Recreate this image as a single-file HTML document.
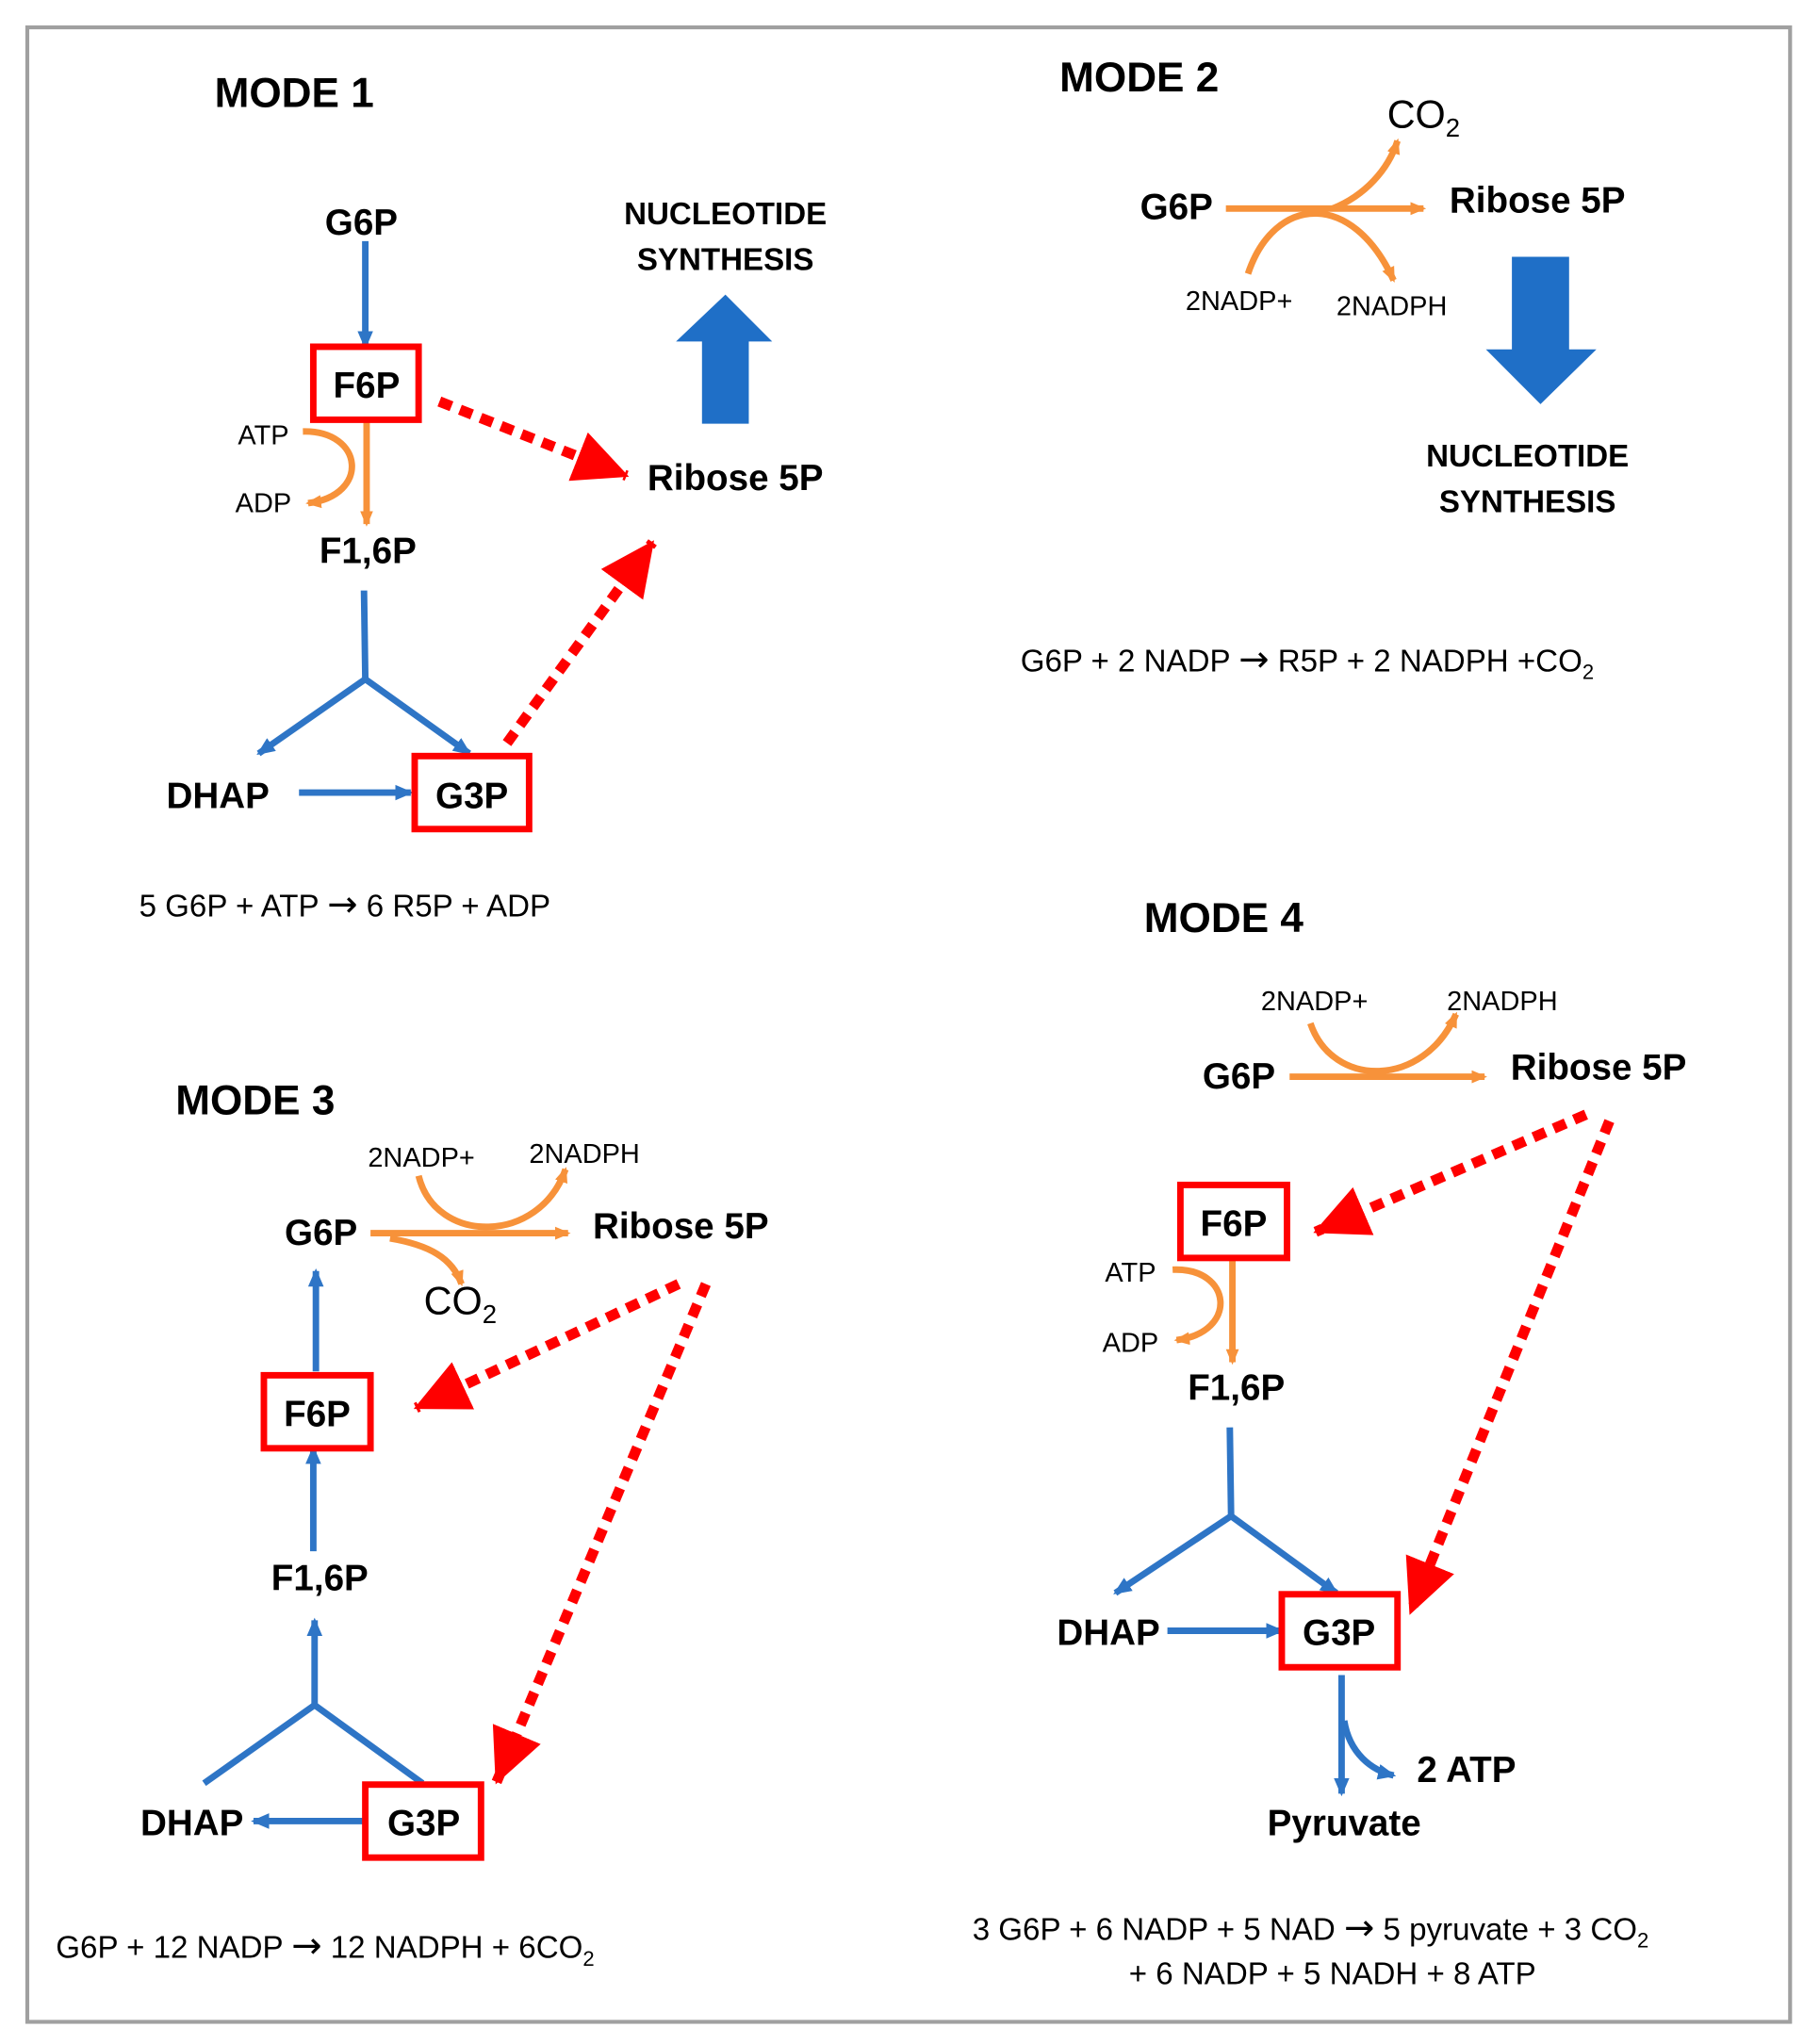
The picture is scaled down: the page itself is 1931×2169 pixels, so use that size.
<!DOCTYPE html>
<html><head><meta charset="utf-8"><style>
html,body{margin:0;padding:0;background:#fff;}
svg{display:block;}
text{font-family:"Liberation Sans",sans-serif;fill:#000;}
.b{font-weight:bold;font-size:28px;}
.t{font-weight:bold;font-size:32px;}
.n{font-weight:bold;font-size:24px;}
.s{font-size:21px;}
.e{font-size:24px;}
.ar{font-family:"DejaVu Sans",sans-serif;font-size:28px;}
</style></head><body>
<svg width="1931" height="2169" viewBox="0 0 1400 1568" preserveAspectRatio="none" xmlns="http://www.w3.org/2000/svg">
<defs>
<marker id="bl" markerWidth="14" markerHeight="14" refX="12" refY="7" orient="auto" markerUnits="userSpaceOnUse"><path d="M0,1 L14,7 L0,13 z" fill="#2e75c6"/></marker>
<marker id="or" markerWidth="12" markerHeight="12" refX="10" refY="6" orient="auto" markerUnits="userSpaceOnUse"><path d="M0,1 L12,6 L0,11 z" fill="#f7923a"/></marker>
<marker id="rd" markerWidth="42" markerHeight="40" refX="40" refY="20" orient="auto" markerUnits="userSpaceOnUse"><path d="M0,0 L42,20 L0,40 z" fill="#ff0000"/></marker>
</defs>
<rect x="0" y="0" width="1400" height="1568" fill="#fff"/>
<rect x="21" y="21" width="1356" height="1530" fill="none" stroke="#a0a0a0" stroke-width="3"/>

<g fill="none" stroke-linecap="butt">
<!-- MODE 1 -->
<line x1="281" y1="185" x2="281" y2="266" stroke="#2e75c6" stroke-width="5" marker-end="url(#bl)"/>
<line x1="282" y1="322" x2="282" y2="402" stroke="#f7923a" stroke-width="5" marker-end="url(#or)"/>
<path d="M233,331 C280,330 285,380 237,386" stroke="#f7923a" stroke-width="5" marker-end="url(#or)"/>
<path d="M280,453 L281,521" stroke="#2e75c6" stroke-width="5"/>
<line x1="281" y1="521" x2="199" y2="578" stroke="#2e75c6" stroke-width="5" marker-end="url(#bl)"/>
<line x1="281" y1="521" x2="361" y2="578" stroke="#2e75c6" stroke-width="5" marker-end="url(#bl)"/>
<line x1="230" y1="608" x2="316" y2="608" stroke="#2e75c6" stroke-width="5" marker-end="url(#bl)"/>
<rect x="241" y="266" width="81" height="56" stroke="#ff0000" stroke-width="5"/>
<rect x="319" y="580" width="88" height="56" stroke="#ff0000" stroke-width="5"/>
<line x1="338" y1="308" x2="482" y2="365" stroke="#ff0000" stroke-width="8" stroke-dasharray="10 7" marker-end="url(#rd)"/>
<line x1="390" y1="570" x2="502" y2="416" stroke="#ff0000" stroke-width="8" stroke-dasharray="10 7" marker-end="url(#rd)"/>

<!-- MODE 2 -->
<line x1="943" y1="160" x2="1095" y2="160" stroke="#f7923a" stroke-width="5" marker-end="url(#or)"/>
<path d="M960,210 C980,150 1040,145 1072,215" stroke="#f7923a" stroke-width="5" marker-end="url(#or)"/>
<path d="M1025,160 C1050,150 1068,130 1075,108" stroke="#f7923a" stroke-width="5" marker-end="url(#or)"/>

<!-- MODE 3 -->
<line x1="285" y1="946" x2="437" y2="946" stroke="#f7923a" stroke-width="5" marker-end="url(#or)"/>
<path d="M322,902 C335,955 415,955 435,897" stroke="#f7923a" stroke-width="5" marker-end="url(#or)"/>
<path d="M300,950 C330,955 348,965 355,985" stroke="#f7923a" stroke-width="5" marker-end="url(#or)"/>
<line x1="243" y1="1052" x2="243" y2="975" stroke="#2e75c6" stroke-width="5" marker-end="url(#bl)"/>
<line x1="241" y1="1190" x2="241" y2="1111" stroke="#2e75c6" stroke-width="5" marker-end="url(#bl)"/>
<line x1="242" y1="1308" x2="242" y2="1243" stroke="#2e75c6" stroke-width="5" marker-end="url(#bl)"/>
<path d="M157,1368 L242,1308 L325,1368" stroke="#2e75c6" stroke-width="5"/>
<line x1="280" y1="1397" x2="195" y2="1397" stroke="#2e75c6" stroke-width="5" marker-end="url(#bl)"/>
<rect x="203" y="1055" width="82" height="56" stroke="#ff0000" stroke-width="5"/>
<rect x="281" y="1369" width="89" height="56" stroke="#ff0000" stroke-width="5"/>
<line x1="522" y1="985" x2="320" y2="1080" stroke="#ff0000" stroke-width="8" stroke-dasharray="10 7" marker-end="url(#rd)"/>
<line x1="543" y1="985" x2="382" y2="1367" stroke="#ff0000" stroke-width="8" stroke-dasharray="10 7" marker-end="url(#rd)"/>

<!-- MODE 4 -->
<line x1="992" y1="826" x2="1142" y2="826" stroke="#f7923a" stroke-width="5" marker-end="url(#or)"/>
<path d="M1008,785 C1025,835 1095,835 1120,778" stroke="#f7923a" stroke-width="5" marker-end="url(#or)"/>
<line x1="948" y1="965" x2="948" y2="1045" stroke="#f7923a" stroke-width="5" marker-end="url(#or)"/>
<path d="M902,974 C948,972 953,1022 905,1028" stroke="#f7923a" stroke-width="5" marker-end="url(#or)"/>
<path d="M946,1095 L947,1163" stroke="#2e75c6" stroke-width="5"/>
<line x1="947" y1="1163" x2="858" y2="1222" stroke="#2e75c6" stroke-width="5" marker-end="url(#bl)"/>
<line x1="947" y1="1163" x2="1028" y2="1222" stroke="#2e75c6" stroke-width="5" marker-end="url(#bl)"/>
<line x1="898" y1="1251" x2="986" y2="1251" stroke="#2e75c6" stroke-width="5" marker-end="url(#bl)"/>
<line x1="1032" y1="1285" x2="1032" y2="1376" stroke="#2e75c6" stroke-width="5" marker-end="url(#bl)"/>
<path d="M1034,1320 C1038,1345 1055,1358 1072,1362" stroke="#2e75c6" stroke-width="5" marker-end="url(#bl)"/>
<rect x="908" y="909" width="82" height="56" stroke="#ff0000" stroke-width="5"/>
<rect x="986" y="1223" width="89" height="56" stroke="#ff0000" stroke-width="5"/>
<line x1="1220" y1="855" x2="1012" y2="945" stroke="#ff0000" stroke-width="8" stroke-dasharray="10 7" marker-end="url(#rd)"/>
<line x1="1238" y1="860" x2="1085" y2="1237" stroke="#ff0000" stroke-width="8" stroke-dasharray="10 7" marker-end="url(#rd)"/>
</g>

<path d="M540,325 L576,325 L576,262 L594,262 L558,226 L520,262 L540,262 z" fill="#1f6fc7"/>
<path d="M1163,197 L1207,197 L1207,268 L1228,268 L1185,310 L1143,268 L1163,268 z" fill="#1f6fc7"/>

<text x="165" y="82" class="t">MODE 1</text>
<text x="278" y="180" class="b" text-anchor="middle">G6P</text>
<text x="282" y="305" class="b" text-anchor="middle">F6P</text>
<text x="183" y="341" class="s">ATP</text>
<text x="181" y="393" class="s">ADP</text>
<text x="283" y="432" class="b" text-anchor="middle">F1,6P</text>
<text x="128" y="620" class="b">DHAP</text>
<text x="363" y="620" class="b" text-anchor="middle">G3P</text>
<text x="558" y="172" class="n" text-anchor="middle">NUCLEOTIDE</text>
<text x="558" y="207" class="n" text-anchor="middle">SYNTHESIS</text>
<text x="498" y="376" class="b">Ribose 5P</text>
<text x="107" y="703" class="e">5 G6P + ATP <tspan class="ar">→</tspan> 6 R5P + ADP</text>

<text x="815" y="70" class="t">MODE 2</text>
<text x="1067" y="98" font-size="30">CO<tspan font-size="20" dy="7">2</tspan></text>
<text x="877" y="168" class="b">G6P</text>
<text x="912" y="238" class="s">2NADP+</text>
<text x="1028" y="242" class="s">2NADPH</text>
<text x="1115" y="163" class="b">Ribose 5P</text>
<text x="1175" y="358" class="n" text-anchor="middle">NUCLEOTIDE</text>
<text x="1175" y="393" class="n" text-anchor="middle">SYNTHESIS</text>
<text x="785" y="515" class="e">G6P + 2 NADP <tspan class="ar">→</tspan> R5P + 2 NADPH +CO<tspan font-size="16" dy="6">2</tspan></text>

<text x="135" y="855" class="t">MODE 3</text>
<text x="283" y="895" class="s">2NADP+</text>
<text x="407" y="892" class="s">2NADPH</text>
<text x="219" y="955" class="b">G6P</text>
<text x="326" y="1008" font-size="30">CO<tspan font-size="20" dy="7">2</tspan></text>
<text x="456" y="950" class="b">Ribose 5P</text>
<text x="244" y="1094" class="b" text-anchor="middle">F6P</text>
<text x="246" y="1220" class="b" text-anchor="middle">F1,6P</text>
<text x="108" y="1408" class="b">DHAP</text>
<text x="326" y="1408" class="b" text-anchor="middle">G3P</text>
<text x="43" y="1502" class="e">G6P + 12 NADP <tspan class="ar">→</tspan> 12 NADPH + 6CO<tspan font-size="16" dy="6">2</tspan></text>

<text x="880" y="715" class="t">MODE 4</text>
<text x="970" y="775" class="s">2NADP+</text>
<text x="1113" y="775" class="s">2NADPH</text>
<text x="925" y="835" class="b">G6P</text>
<text x="1162" y="828" class="b">Ribose 5P</text>
<text x="949" y="948" class="b" text-anchor="middle">F6P</text>
<text x="850" y="983" class="s">ATP</text>
<text x="848" y="1037" class="s">ADP</text>
<text x="951" y="1074" class="b" text-anchor="middle">F1,6P</text>
<text x="813" y="1262" class="b">DHAP</text>
<text x="1030" y="1262" class="b" text-anchor="middle">G3P</text>
<text x="1090" y="1367" class="b">2 ATP</text>
<text x="1034" y="1408" class="b" text-anchor="middle">Pyruvate</text>
<text x="748" y="1488" class="e">3 G6P + 6 NADP + 5 NAD <tspan class="ar">→</tspan> 5 pyruvate + 3 CO<tspan font-size="16" dy="6">2</tspan></text>
<text x="1025" y="1522" class="e" text-anchor="middle">+ 6 NADP + 5 NADH + 8 ATP</text>
</svg>
</body></html>
